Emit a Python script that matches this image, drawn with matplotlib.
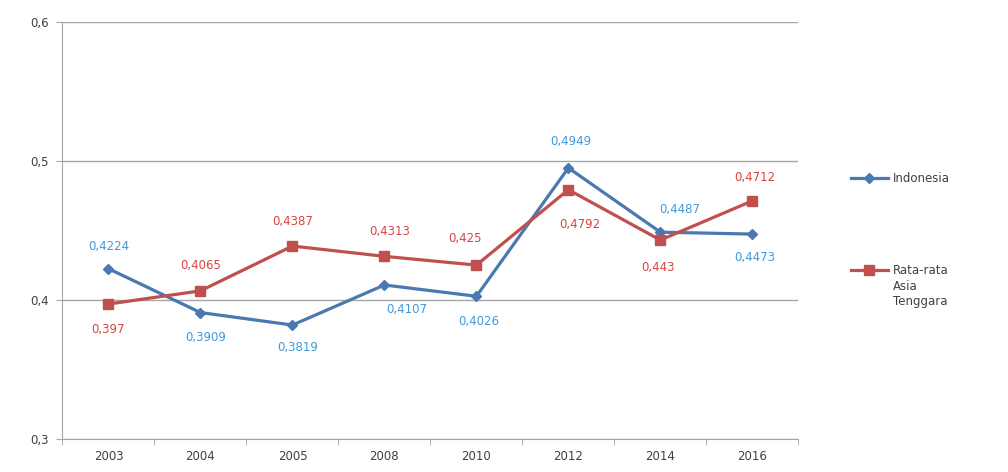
import numpy as np
import matplotlib
matplotlib.use("Agg")
import matplotlib.pyplot as plt

years = ["2003", "2004", "2005", "2008", "2010", "2012", "2014", "2016"]
indonesia = [0.4224, 0.3909, 0.3819, 0.4107, 0.4026, 0.4949, 0.4487, 0.4473]
asean = [0.397, 0.4065, 0.4387, 0.4313, 0.425, 0.4792, 0.443, 0.4712]
indo_labels = ["0,4224", "0,3909", "0,3819", "0,4107", "0,4026", "0,4949", "0,4487", "0,4473"]
asean_labels = ["0,397", "0,4065", "0,4387", "0,4313", "0,425", "0,4792", "0,443", "0,4712"]

# label offsets in points (dx, dy)
indo_off = [(0, 16), (4, -18), (4, -16), (16, -18), (2, -18), (2, 19), (14, 16), (2, -17)]
asean_off = [(0, -18), (0, 18), (0, 18), (4, 18), (-8, 19), (8, -25), (-2, -20), (2, 17)]

BLUE = "#4a78b0"
BLUE_TXT = "#3f9ad8"
RED = "#c0504d"
RED_TXT = "#d64541"
GRID = "#a6a6a6"
TXT = "#404040"

fig = plt.figure(figsize=(10.08, 4.72), dpi=100)
ax = fig.add_axes([0.062, 0.07, 0.73, 0.884])

x = np.arange(len(years))
ax.plot(x, indonesia, color=BLUE, marker="D", markersize=5, linewidth=2.3, label="Indonesia", zorder=3)
ax.plot(x, asean, color=RED, marker="s", markersize=7, linewidth=2.3, label="Rata-rata", zorder=3)

for xi, v, t, (dx, dy) in zip(x, indonesia, indo_labels, indo_off):
    ax.annotate(t, (xi, v), textcoords="offset points", xytext=(dx, dy),
                ha="center", va="center", fontsize=8.5, color=BLUE_TXT)
for xi, v, t, (dx, dy) in zip(x, asean, asean_labels, asean_off):
    ax.annotate(t, (xi, v), textcoords="offset points", xytext=(dx, dy),
                ha="center", va="center", fontsize=8.5, color=RED_TXT)

ax.set_xlim(-0.5, len(years) - 0.5)
ax.set_ylim(0.3, 0.6)
ax.set_yticks([0.3, 0.4, 0.5, 0.6])
ax.set_yticklabels(["0,3", "0,4", "0,5", "0,6"])
ax.set_xticks(x)
ax.set_xticklabels(years)
ax.set_xticks(np.arange(-0.5, len(years), 1), minor=True)
ax.tick_params(axis="x", which="major", length=0, pad=8, labelsize=8.5, labelcolor=TXT)
ax.tick_params(axis="x", which="minor", length=4, color=GRID)
ax.tick_params(axis="y", length=4, color=GRID, labelsize=8.5, labelcolor=TXT, pad=6)

ax.grid(True, axis="y", color=GRID, linewidth=1)
ax.set_axisbelow(True)
for s in ["top", "right"]:
    ax.spines[s].set_visible(False)
for s in ["left", "bottom"]:
    ax.spines[s].set_color(GRID)

leg = fig.legend(loc="center left", bbox_to_anchor=(0.838, 0.525), frameon=False,
                 fontsize=8.5, labelspacing=6.7, handlelength=3.2, handletextpad=0.35,
                 borderpad=0)
for t in leg.get_texts():
    t.set_color(TXT)

# continuation lines of the second legend label
fig.canvas.draw()
bb = leg.get_texts()[1].get_window_extent()
fig.text(bb.x0 / fig.bbox.width, bb.y0 / fig.bbox.height - 0.006, "Asia\nTenggara",
         ha="left", va="top", fontsize=8.5, color=TXT, linespacing=1.25)

fig.savefig("out.png", dpi=100)
